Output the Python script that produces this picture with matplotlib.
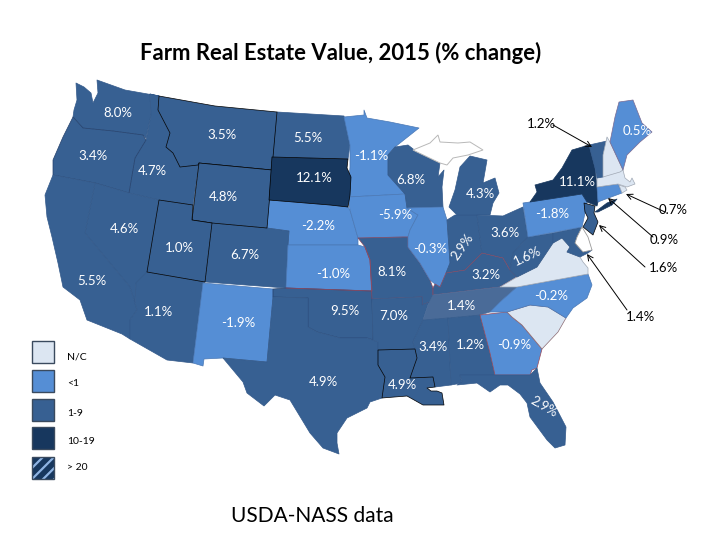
import matplotlib
matplotlib.use('Agg')
import matplotlib.pyplot as plt
from matplotlib.patches import Polygon, Rectangle

plt.rcParams['font.family'] = ['Lato', 'DejaVu Sans']
plt.rcParams['hatch.linewidth'] = 1.6

# Outlines of the states (image pixels)
WA = [(76, 83), (84, 87), (91, 93), (93, 103), (98, 93), (97, 80), (125, 90), (159, 96), (150, 94), (151, 115), (146, 138), (143, 135),
      (113, 131), (83, 128), (73, 117), (74, 110), (77, 100)]
ID = [(150, 94), (159, 96), (158, 110), (170, 133), (166, 147), (173, 153), (180, 167), (198, 165), (199, 163), (193, 205), (159, 200),
      (129, 193), (135, 158), (146, 140), (151, 115)]
MT = [(159, 96), (215, 106), (277, 112), (273, 157), (272, 170), (199, 163), (198, 165), (180, 167), (173, 153), (166, 147), (170, 133), (158, 110)]
OR = [(73, 117), (83, 128), (113, 131), (143, 135), (146, 140), (135, 158), (129, 193), (95, 183), (53, 175), (53, 160), (63, 137)]
WY = [(199, 163), (272, 170), (267, 228), (212, 223), (192, 220)]
ND = [(277, 112), (344, 116), (350, 145), (348, 159), (272, 157)]
SD = [(272, 157), (348, 159), (347, 168), (351, 177), (350, 195), (348, 207), (330, 205), (269, 200)]
NE = [(269, 200), (330, 205), (348, 207), (350, 210), (358, 238), (358, 245), (288, 245), (289, 231), (267, 228)]
CO = [(212, 223), (267, 228), (289, 231), (288, 245), (286, 288), (205, 282)]
UT = [(159, 200), (193, 205), (192, 220), (212, 223), (205, 282), (147, 272)]
NV = [(95, 183), (129, 193), (159, 200), (147, 272), (136, 283), (135, 303), (130, 287), (85, 233)]
CA = [(53, 175), (95, 183), (85, 233), (130, 287), (135, 303), (137, 310), (130, 320), (130, 339), (122, 334), (87, 320), (80, 300), (63, 287),
      (58, 263), (52, 237), (47, 217), (45, 195)]
AZ = [(147, 272), (205, 282), (203, 283), (193, 363), (167, 360), (130, 339), (130, 320), (137, 310), (135, 303), (136, 283)]
NM = [(203, 283), (273, 289), (273, 297), (267, 362), (223, 358), (204, 359), (203, 366), (193, 363)]
KS = [(288, 245), (358, 245), (365, 247), (370, 260), (372, 291), (286, 288)]
OK = [(273, 289), (286, 288), (372, 291), (372, 299), (373, 340), (367, 338), (340, 338), (317, 332), (308, 327), (308, 298), (273, 297)]
TX = [(273, 297), (308, 298), (308, 327), (317, 332), (340, 338), (367, 338), (373, 340), (378, 342), (378, 365), (385, 377), (382, 398), (370, 402),
      (367, 408), (347, 418), (337, 433), (337, 443), (339, 454), (323, 448), (310, 433), (290, 400), (275, 395), (264, 406), (247, 393),
      (243, 382), (223, 358), (267, 362)]
MN = [(344, 117), (364, 115), (364, 110), (367, 118), (390, 122), (419, 128), (395, 147), (388, 155), (388, 175), (405, 194), (348, 197),
      (350, 167), (350, 145)]
IA = [(348, 197), (405, 194), (407, 208), (418, 215), (410, 230), (408, 237), (403, 237), (358, 238), (350, 210)]
MO = [(358, 238), (403, 237), (408, 237), (408, 247), (420, 263), (430, 280), (433, 288), (433, 295), (430, 302), (422, 305), (422, 297), (372, 299),
      (370, 260), (365, 247)]
AR = [(372, 299), (422, 297), (422, 305), (430, 302), (433, 295), (428, 305), (423, 320), (413, 342), (415, 349), (378, 350), (378, 342), (373, 340)]
LA = [(378, 350), (415, 349), (417, 358), (410, 378), (433, 377), (435, 387), (427, 388), (431, 391), (437, 391), (442, 393), (444, 405),
      (423, 405), (407, 396), (382, 398), (385, 377), (378, 365)]
WI = [(395, 147), (408, 145), (417, 152), (440, 163), (438, 177), (444, 170), (442, 187), (443, 207), (407, 208), (405, 194), (388, 175), (388, 155)]
IL = [(407, 208), (443, 207), (447, 220), (450, 263), (446, 273), (440, 287), (435, 284), (430, 280), (420, 263), (408, 247), (408, 237), (410, 230), (418, 215)]
IN = [(447, 220), (455, 215), (477, 215), (482, 253), (465, 270), (446, 273), (450, 263)]
MI = [(470, 156), (487, 160), (483, 183), (495, 178), (499, 193), (493, 203), (490, 215), (457, 215), (449, 207), (455, 190), (460, 167)]
MI_UP = [(413, 150), (430, 143), (438, 135), (440, 142), (458, 143), (470, 142), (483, 150), (468, 155), (453, 158), (447, 165), (440, 163), (417, 152)]
OH = [(477, 215), (503, 216), (523, 207), (528, 237), (513, 253), (510, 270), (503, 258), (482, 253)]
KY = [(433, 288), (435, 284), (440, 287), (446, 273), (465, 270), (482, 253), (503, 258), (510, 270), (517, 277), (500, 287), (433, 295)]
TN = [(433, 295), (500, 287), (517, 287), (500, 302), (490, 312), (480, 315), (448, 318), (423, 320), (428, 305)]
MS = [(423, 320), (448, 318), (451, 385), (435, 387), (433, 377), (410, 378), (417, 358), (415, 349), (413, 342)]
AL = [(448, 318), (480, 315), (490, 353), (495, 375), (460, 375), (462, 383), (451, 385)]
GA = [(480, 315), (507, 312), (512, 317), (522, 325), (542, 349), (537, 368), (532, 370), (530, 375), (495, 375), (490, 353)]
FL = [(460, 375), (495, 375), (530, 375), (537, 368), (540, 383), (553, 402), (566, 427), (565, 445), (555, 448), (547, 440), (530, 417),
      (527, 403), (520, 394), (508, 385), (500, 385), (490, 392), (477, 383), (457, 385), (462, 382)]
SC = [(507, 312), (530, 305), (548, 307), (566, 318), (558, 332), (542, 349), (522, 325), (512, 317)]
NC = [(517, 287), (588, 274), (592, 285), (587, 298), (573, 308), (566, 318), (548, 307), (530, 305), (507, 312), (490, 312), (500, 302)]
VA = [(500, 287), (517, 277), (537, 267), (553, 243), (562, 238), (570, 247), (567, 252), (580, 257), (583, 262), (588, 268), (588, 274), (517, 287)]
WV = [(513, 253), (528, 237), (553, 233), (553, 243), (537, 267), (517, 277), (510, 270)]
MD = [(553, 233), (582, 227), (577, 237), (575, 243), (583, 252), (592, 250), (588, 253), (580, 257), (567, 252), (570, 247), (562, 238), (553, 243)]
DE = [(582, 227), (588, 237), (592, 250), (583, 252), (575, 243), (577, 237)]
PA = [(523, 203), (530, 202), (582, 194), (587, 202), (585, 213), (582, 227), (528, 237)]
NY = [(530, 202), (537, 192), (535, 185), (553, 180), (562, 168), (572, 150), (589, 145), (595, 168), (597, 187), (598, 202), (597, 206),
      (587, 202), (582, 194)]
LI = [(595, 212), (607, 203), (617, 199), (612, 205), (598, 212)]
NJ = [(584, 203), (595, 206), (594, 213), (598, 222), (593, 235), (583, 227), (588, 218), (585, 212)]
CT = [(597, 187), (618, 184), (622, 193), (603, 200), (598, 202)]
RI = [(619, 185), (625, 187), (627, 190), (622, 193)]
MA = [(597, 178), (623, 170), (625, 178), (630, 182), (632, 178), (635, 184), (627, 187), (618, 184), (597, 187)]
VT = [(589, 145), (607, 141), (603, 155), (603, 177), (597, 178), (595, 168)]
NH = [(607, 137), (610, 142), (623, 170), (620, 172), (603, 177), (603, 155)]
ME = [(610, 142), (615, 117), (619, 102), (633, 100), (642, 123), (652, 132), (640, 142), (627, 155), (623, 170)]

outlines = [WA, ID, MT, OR, WY, ND, SD, NE, CO, UT, NV, CA, AZ, NM, KS, OK, TX, MN, IA, MO, AR, LA, WI, IL, IN, MI, OH, KY, TN, MS, AL,
            GA, FL, SC, NC, VA, WV, MD, PA, NY, LI, NJ, CT, RI, MA, VT, NH, ME]
state_class = ['mid', 'mid', 'mid', 'mid', 'mid', 'mid', 'dark', 'low', 'mid', 'mid', 'mid', 'mid', 'mid', 'low', 'low', 'mid', 'mid',
               'low', 'low', 'mid', 'mid', 'mid', 'mid', 'low', 'mid', 'mid', 'mid', 'mid', 'tn', 'mid', 'mid',
               'low', 'mid', 'nc', 'low', 'nc', 'mid', 'mid', 'low', 'dark', 'dark', 'mid', 'low', 'nc', 'nc', 'mid', 'nc', 'low']
state_edge = ['#33598a', '#33598a', 'black', '#24406b', 'black', '#33598a', 'black', '#4a78b5', '#33598a', 'black', '#33598a', '#33598a',
              '#33598a', '#4a78b5', '#4a78b5', '#24406b', '#33598a', '#4a78b5', '#4a78b5', '#8a4a62', '#33598a', 'black', '#33598a', '#4a78b5',
              '#33598a', '#33598a', '#33598a', '#8a4a62', '#4a6b98', '#33598a', '#33598a', '#9a4a5a', '#33598a', '#8a6a72', '#4a78b5',
              '#a0a8b4', '#33598a', '#33598a', '#4a78b5', '#17375e', '#17375e', 'black', '#4a78b5', '#a0a8b4', '#a0a8b4', '#33598a', '#a0a8b4', '#7a6a92']

# Values printed on the map
label_text = ['8.0%', '3.5%', '5.5%', '3.4%', '4.7%', '4.8%', '12.1%', '-1.1%', '6.8%', '4.3%', '11.1%', '0.5%', '-1.8%', '3.6%',
              '-5.9%', '-0.3%', '2.9%', '1.6%', '-2.2%', '4.6%', '1.0%', '6.7%', '-1.0%', '8.1%', '3.2%', '5.5%', '-0.2%', '1.4%',
              '1.1%', '-1.9%', '9.5%', '7.0%', '3.4%', '1.2%', '-0.9%', '4.9%', '4.9%', '2.9%']
label_x = [118, 222, 308, 93, 152, 223, 314, 371, 411, 480, 577, 637, 552, 505, 395, 430, 463, 527, 318, 124, 179, 245, 333, 392, 486, 92,
           551, 461, 158, 238, 345, 394, 433, 470, 514, 323, 402, 544]
label_y = [113, 135, 138, 156, 171, 197, 178, 156, 180, 194, 182, 131, 214, 233, 215, 249, 247, 256, 226, 229, 248, 255, 274, 272, 275, 281,
           296, 306, 312, 323, 311, 316, 347, 345, 345, 382, 385, 407]
label_rot = {16: 55, 17: 25, 37: -30}

# Small states called out with an arrow
callout_text = ['1.2%', '0.7%', '0.9%', '1.6%', '1.4%']
callout_xy = [(592, 147), (626, 194), (608, 198), (599, 225), (587, 254)]
callout_from = [(553, 125), (665, 212), (653, 237), (645, 267), (627, 310)]
callout_pos = [(541, 124), (673, 210), (664, 240), (663, 268), (640, 317)]

legend_labels = ['N/C', '<1', '1-9', '10-19', '> 20']
legend_y = [341, 370, 399, 427, 457]
legend_text_y = [357, 383, 413, 441, 468]

colors = {'nc': '#dce6f2', 'low': '#558ed5', 'mid': '#376092', 'dark': '#17375e', 'tn': '#4a6b98'}

fig = plt.figure(figsize=(7.2, 5.4), dpi=100)
ax = fig.add_axes([0, 0, 1, 1])
ax.set_xlim(0, 720)
ax.set_ylim(540, 0)
ax.axis('off')

# Black edged states go last so their lines stay on top
order = sorted(range(len(outlines)), key=lambda i: state_edge[i] == 'black')
for i in order:
    ax.add_patch(Polygon(outlines[i], closed=True, facecolor=colors[state_class[i]], edgecolor=state_edge[i], linewidth=0.5, joinstyle='round'))
ax.add_patch(Polygon(MI_UP, closed=True, facecolor='white', edgecolor='#b8b8b8', linewidth=0.7))
ax.add_patch(Polygon(DE, closed=True, facecolor='white', edgecolor='#9a9a9a', linewidth=0.6))

# Kansas keeps a reddish line on its south and east side only
ax.plot([p[0] for p in KS[2:]], [p[1] for p in KS[2:]], color='#8a4a62', lw=0.6)

for i, txt in enumerate(label_text):
    ax.text(label_x[i], label_y[i], txt, color='white', fontsize=9.5, ha='center', va='center', rotation=label_rot.get(i, 0))

for txt, tip, tail, pos in zip(callout_text, callout_xy, callout_from, callout_pos):
    ax.annotate('', xy=tip, xytext=tail, arrowprops=dict(arrowstyle='->', color='black', lw=0.7, shrinkA=0, shrinkB=0))
    ax.text(pos[0], pos[1], txt, color='black', fontsize=9.5, ha='center', va='center')

# Legend boxes
swatches = [colors['nc'], '#558ed5', '#376092', colors['dark']]
for y, c in zip(legend_y, swatches):
    ax.add_patch(Rectangle((32, y), 22, 22, facecolor=c, edgecolor='#3a4a5e', linewidth=1.0))
ax.add_patch(Rectangle((32, legend_y[4]), 22, 22, facecolor=colors['dark'], edgecolor='#8fb4e3', linewidth=0, hatch='///'))
ax.add_patch(Rectangle((32, legend_y[4]), 22, 22, fill=False, edgecolor='#3a4a5e', linewidth=1.0))
for y, txt in zip(legend_text_y, legend_labels):
    ax.text(67, y, txt, color='black', fontsize=7.5, ha='left', va='center')

ax.text(340.5, 53, 'Farm Real Estate Value, 2015 (% change)', color='black', fontsize=15.9, fontweight='bold', ha='center', va='center')
ax.text(312, 516, 'USDA-NASS data', color='black', fontsize=15, ha='center', va='center')

fig.savefig('out.png', dpi=100)
plt.close(fig)
